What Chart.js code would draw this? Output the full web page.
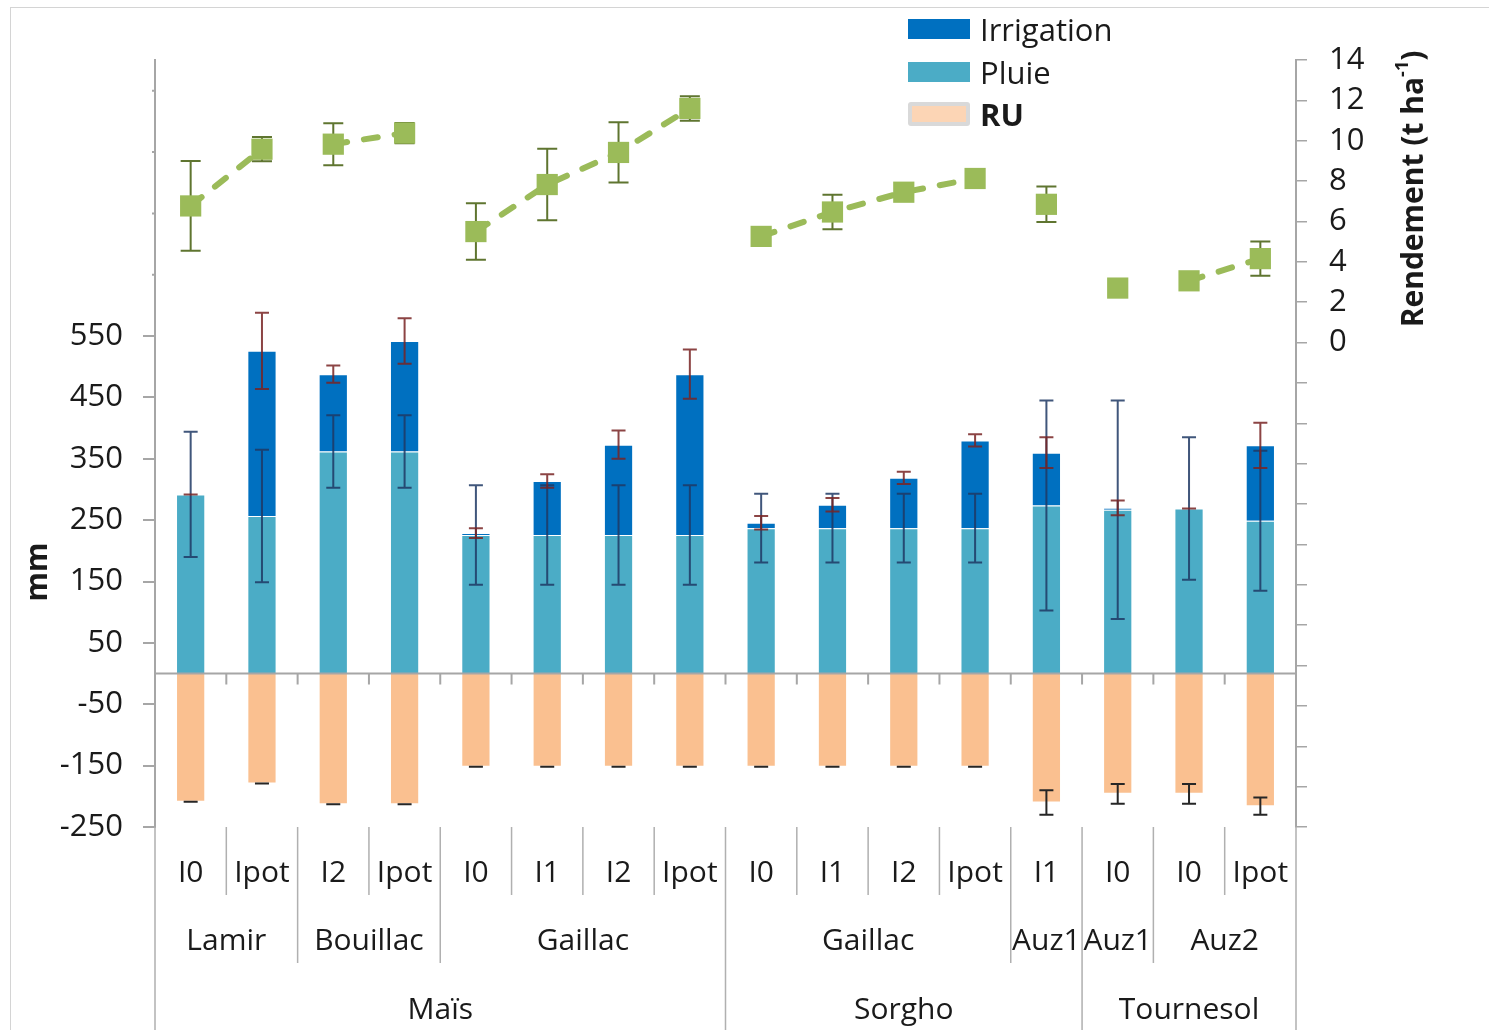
<!DOCTYPE html>
<html>
<head>
<meta charset="utf-8">
<script src="https://cdn.jsdelivr.net/npm/chart.js@4.4.0/dist/chart.umd.min.js"></script>
<style>
  body { margin: 0; background: #fff; }
  #wrap { position: relative; width: 1489px; height: 1030px; overflow: hidden; }
  #frame { position: absolute; left: 10px; top: 7px; right: -5px; bottom: -5px;
           border-left: 1px solid #d4d4d4; border-top: 1px solid #d4d4d4; }
  #legend { position: absolute; left: 908px; top: 8px; font-family: "Open Sans", sans-serif;
            font-size: 31px; color: #1a1a1a; }
  .item { display: flex; align-items: center; height: 42.5px; }
  .box { width: 62px; height: 20px; margin-right: 10px; box-sizing: border-box; }
  .ru { background: #fcd5b5; border: 4px solid #d9d9d9; border-radius: 3px; height: 24px; }
</style>
</head>
<body>
<div id="wrap">
  <div id="frame"></div>
  <canvas id="chart" width="1489" height="1030"></canvas>
  <div id="legend">
    <div class="item"><div class="box" style="background:#0070c0"></div>Irrigation</div>
    <div class="item"><div class="box" style="background:#4bacc6"></div>Pluie</div>
    <div class="item"><div class="box ru"></div><b>RU</b></div>
  </div>
</div>
<script>
// categories (3 levels)
const treatments = ["I0", "Ipot", "I2", "Ipot", "I0", "I1", "I2", "Ipot", "I0", "I1", "I2", "Ipot", "I1", "I0", "I0", "Ipot"];
const sites = ["Lamir", "Bouillac", "Gaillac", "Gaillac", "Auz1", "Auz1", "Auz2"];
const siteSpans = [2, 2, 4, 4, 1, 1, 2];
const crops = ["Maïs", "Sorgho", "Tournesol"];
const cropSpans = [8, 5, 3];

// water balance (mm)
const pluie = [292, 257, 362, 362, 226, 226, 226, 226, 237, 237, 237, 237, 274, 267, 269, 249];
const irrigation = [0, 269, 126, 180, 3, 88, 147, 262, 9, 38, 82, 143, 86, 3, 0, 123];
const ru = [-209, -179, -213, -213, -152, -152, -152, -152, -152, -152, -152, -152, -210, -196, -196, -216];
const pluieErr = [102, 108, 59, 59, 81, 81, 81, 81, 56, 56, 56, 56, 171, 178, 116, 114];
const irrErr = [0, 62, 14, 37, 8, 11, 23, 40, 11, 11, 10, 10, 25, 12, 0, 37];
const ruErr = [0, 0, 0, 0, 0, 0, 0, 0, 0, 0, 0, 0, 20, 16, 16, 14];

// yield (t/ha)
const rendement = [6.77, 9.58, 9.83, 10.38, 5.5, 7.83, 9.42, 11.6, 5.26, 6.47, 7.45, 8.13, 6.85, 2.7, 3.06, 4.16];
const rendementErr = [2.22, 0.6, 1.04, 0.5, 1.4, 1.77, 1.49, 0.61, 0, 0.85, 0, 0, 0.88, 0, 0, 0.85];

// axis ticks
const mmTicks = [-250, -150, -50, 50, 150, 250, 350, 450, 550, 650, 750, 850, 950];
const mmLabelMax = 550;
const yieldTicks = [-24, -22, -20, -18, -16, -14, -12, -10, -8, -6, -4, -2, 0, 2, 4, 6, 8, 10, 12, 14];

const FONT = '"Open Sans", sans-serif';
const GREEN = "#9bbb59";
const AXIS = "#a6a6a6";

// group index of each category (to break the yield line between sites)
const siteOf = [];
siteSpans.forEach((n, g) => { for (let k = 0; k < n; k++) siteOf.push(g); });

function errorBar(ctx, x, yA, yB, cap, color) {
  ctx.strokeStyle = color;
  ctx.lineWidth = 2;
  ctx.beginPath();
  ctx.moveTo(x, yA); ctx.lineTo(x, yB);
  ctx.moveTo(x - cap, yA); ctx.lineTo(x + cap, yA);
  ctx.moveTo(x - cap, yB); ctx.lineTo(x + cap, yB);
  ctx.stroke();
}

const decor = {
  id: "decor",
  beforeDatasetDraw(chart, args) {
    if (args.index !== 3) return;
    const ctx = chart.ctx, x = chart.scales.x, y = chart.scales.y, y2 = chart.scales.y2;
    ctx.save();
    treatments.forEach((t, i) => {
      const cx = x.getPixelForValue(i);
      const p = pluie[i], tot = pluie[i] + irrigation[i];
      errorBar(ctx, cx, y.getPixelForValue(p + pluieErr[i]), y.getPixelForValue(p - pluieErr[i]), 7, "rgba(31,56,100,0.85)");
      errorBar(ctx, cx, y.getPixelForValue(tot + irrErr[i]), y.getPixelForValue(tot - irrErr[i]), 7, "rgba(120,35,35,0.85)");
      errorBar(ctx, cx, y.getPixelForValue(ru[i] + ruErr[i]), y.getPixelForValue(ru[i] - ruErr[i]), 7, "#262626");
      if (rendementErr[i] > 0) {
        errorBar(ctx, cx, y2.getPixelForValue(rendement[i] + rendementErr[i]), y2.getPixelForValue(rendement[i] - rendementErr[i]), 10, "#5f7530");
      }
    });
    ctx.restore();
  },
  afterDraw(chart) {
    const ctx = chart.ctx, x = chart.scales.x, y = chart.scales.y;
    const area = chart.chartArea;
    const step = (area.right - area.left) / treatments.length;
    const bound = k => area.left + k * step;
    const y0 = y.getPixelForValue(0);
    ctx.save();

    // zero line with category tick marks
    ctx.strokeStyle = AXIS;
    ctx.lineWidth = 2;
    ctx.beginPath();
    ctx.moveTo(area.left, y0); ctx.lineTo(area.right, y0);
    for (let k = 1; k < treatments.length; k++) {
      ctx.moveTo(bound(k), y0); ctx.lineTo(bound(k), y0 + 11);
    }
    // small marks for unlabeled mm ticks
    mmTicks.filter(v => v > mmLabelMax).forEach(v => {
      const py = y.getPixelForValue(v);
      ctx.moveTo(area.left - 3, py); ctx.lineTo(area.left, py);
    });
    ctx.stroke();

    // category separators
    const top = area.bottom, r1 = top + 68, r2 = top + 136, r3 = chart.height;
    ctx.strokeStyle = "#b0b0b0";
    ctx.lineWidth = 1.5;
    const siteEnds = [], cropEnds = [];
    siteSpans.reduce((a, n) => { siteEnds.push(a + n); return a + n; }, 0);
    cropSpans.reduce((a, n) => { cropEnds.push(a + n); return a + n; }, 0);
    ctx.beginPath();
    for (let k = 0; k <= treatments.length; k++) {
      let end = r1;
      if (siteEnds.includes(k) || k === 0) end = r2;
      if (cropEnds.includes(k) || k === 0) end = r3;
      ctx.moveTo(bound(k), top); ctx.lineTo(bound(k), end);
    }
    ctx.stroke();

    // category labels
    ctx.fillStyle = "#1a1a1a";
    ctx.font = "30px " + FONT;
    ctx.textAlign = "center";
    ctx.textBaseline = "middle";
    treatments.forEach((t, i) => ctx.fillText(t, x.getPixelForValue(i), top + 46));
    let k = 0;
    sites.forEach((s, g) => {
      ctx.fillText(s, (bound(k) + bound(k + siteSpans[g])) / 2, top + 114);
      k += siteSpans[g];
    });
    k = 0;
    crops.forEach((c, g) => {
      ctx.fillText(c, (bound(k) + bound(k + cropSpans[g])) / 2, top + 183);
      k += cropSpans[g];
    });

    // axis titles
    ctx.font = "bold 30px " + FONT;
    ctx.save();
    ctx.translate(38, 572);
    ctx.rotate(-Math.PI / 2);
    ctx.fillText("mm", 0, 0);
    ctx.restore();

    ctx.save();
    ctx.translate(1414, 189);
    ctx.rotate(-Math.PI / 2);
    ctx.textAlign = "left";
    const main = "Rendement (t ha", sup = "-1", close = ")";
    ctx.font = "bold 30px " + FONT;
    const w1 = ctx.measureText(main).width, w3 = ctx.measureText(close).width;
    ctx.font = "bold 18px " + FONT;
    const w2 = ctx.measureText(sup).width;
    let sx = -(w1 + w2 + w3) / 2;
    ctx.font = "bold 30px " + FONT;
    ctx.fillText(main, sx, 0);
    ctx.font = "bold 18px " + FONT;
    ctx.fillText(sup, sx + w1, -11);
    ctx.font = "bold 30px " + FONT;
    ctx.fillText(close, sx + w1 + w2, 0);
    ctx.restore();

    ctx.restore();
  }
};

new Chart(document.getElementById("chart"), {
  type: "bar",
  data: {
    labels: treatments,
    datasets: [
      { label: "Pluie", data: pluie, backgroundColor: "#4bacc6", borderColor: "rgba(255,255,255,0.35)", borderWidth: 1, order: 1 },
      { label: "Irrigation", data: irrigation, backgroundColor: "#0070c0", borderColor: "rgba(255,255,255,0.35)", borderWidth: 1, order: 1 },
      { label: "RU", data: ru, backgroundColor: "#fac090", borderColor: "rgba(255,255,255,0.35)", borderWidth: 1, order: 1 },
      {
        type: "line", label: "Rendement", data: rendement, yAxisID: "y2", order: 0,
        borderColor: GREEN, borderWidth: 6, borderDash: [14, 17], borderCapStyle: "round",
        pointStyle: "rect", pointRadius: 15, pointBackgroundColor: GREEN, pointBorderColor: GREEN,
        pointBorderWidth: 0,
        segment: {
          borderColor: c => siteOf[c.p0DataIndex] === siteOf[c.p1DataIndex] ? GREEN : "rgba(0,0,0,0)"
        }
      }
    ]
  },
  options: {
    responsive: false,
    animation: false,
    layout: { padding: { top: 60, bottom: 203 } },
    plugins: { legend: { display: false }, tooltip: { enabled: false } },
    datasets: { bar: { categoryPercentage: 1, barPercentage: 0.41 } },
    scales: {
      x: { display: false, stacked: true },
      y: {
        stacked: true, min: -250, max: 1000,
        afterBuildTicks: s => { s.ticks = mmTicks.map(v => ({ value: v })); },
        afterFit: s => { s.width = 155; },
        border: { color: AXIS, width: 2 },
        grid: { drawOnChartArea: false, tickLength: 12, lineWidth: 2,
                color: c => (c.tick && c.tick.value > mmLabelMax) ? "rgba(0,0,0,0)" : AXIS },
        ticks: { padding: 20, color: "#1a1a1a", font: { family: FONT, size: 31 },
                 callback: v => v <= mmLabelMax ? v : "" }
      },
      y2: {
        position: "right", min: -24, max: 14,
        afterBuildTicks: s => { s.ticks = yieldTicks.map(v => ({ value: v })); },
        afterFit: s => { s.width = 193; },
        border: { color: AXIS, width: 2 },
        grid: { drawOnChartArea: false, tickLength: 11, lineWidth: 1.5, color: AXIS },
        ticks: { padding: 22, color: "#1a1a1a", font: { family: FONT, size: 31 },
                 callback: v => v >= 0 ? v : "" }
      }
    }
  },
  plugins: [decor]
});
</script>
</body>
</html>
